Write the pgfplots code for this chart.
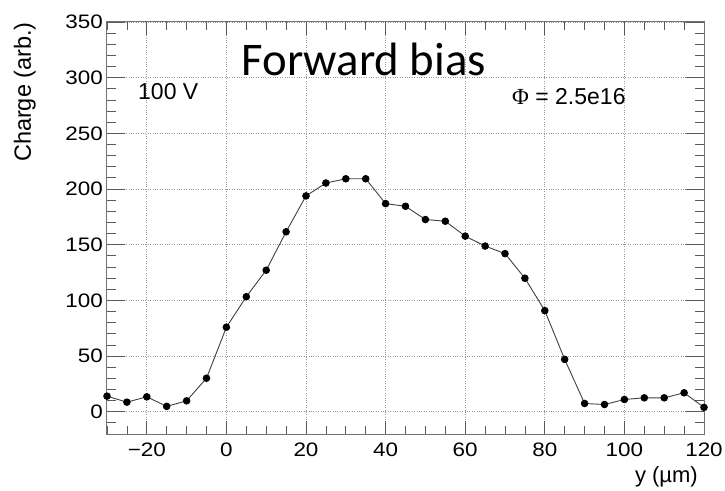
\documentclass[border=0pt]{standalone}
\usepackage{fontspec}
\setmainfont{Liberation Sans}
\newfontfamily\tickfont[FakeStretch=1.15]{Liberation Sans}
\newfontfamily\titlefont{Carlito}
\newfontfamily\symfont{Liberation Serif}
\usepackage{pgfplots}
\pgfplotsset{compat=1.18}
\begin{document}
\begin{tikzpicture}[x=1pt,y=1pt]
\path (-107,-56) rectangle (618,434);
% y ticks and y grid
\begin{axis}[at={(0,0)}, anchor=south west, scale only axis, width=597pt, height=412pt,
  xmin=-30, xmax=120, ymin=-20, ymax=350,
  xtick=\empty,
  ytick={0,50,...,350}, minor ytick={-20,-10,...,350},
  yticklabels={0,50,100,150,200,250,300,350},
  yticklabel style={font=\tickfont\fontsize{19.5}{20}\selectfont, anchor=east, inner sep=0pt, xshift=-4pt},
  ymajorgrids, major grid style={black!40, dotted, line width=0.8pt},
  major tick length=18pt, minor tick length=9pt,
  axis line style={black!55, line width=1pt},
  tick style={black!65, line width=0.8pt}]
\end{axis}
% x ticks, x grid and data
\begin{axis}[at={(0,0)}, anchor=south west, scale only axis, width=597pt, height=412pt,
  xmin=-30, xmax=120, ymin=-20, ymax=350,
  ytick=\empty,
  xtick={-20,0,...,120}, minor xtick={-30,-25,...,120},
  xticklabels={−20,0,20,40,60,80,100,120},
  xticklabel style={font=\tickfont\fontsize{19.5}{20}\selectfont, anchor=north, inner sep=0pt, yshift=-8.5pt},
  xmajorgrids, major grid style={black!40, dotted, line width=0.8pt},
  major tick length=13pt, minor tick length=8pt,
  axis line style={black!55, line width=1pt},
  tick style={black!65, line width=0.8pt},
  clip=false]
\addplot[black!75, line width=0.9pt, mark=*, mark size=3.3pt, mark options={black, fill=black, solid}] coordinates {
(-30,14.0) (-25,8.6) (-20,13.4) (-15,4.8) (-10,9.8) (-5,30.1)
(0,75.9) (5,103.3) (10,127.1) (15,161.6) (20,193.8) (25,205.4)
(30,209.2) (35,209.2) (40,186.9) (45,184.5) (50,172.6) (55,171.1)
(60,157.7) (65,148.8) (70,142.0) (75,119.9) (80,90.8) (85,47.0)
(90,7.4) (95,6.5) (100,11.0) (105,12.5) (110,12.5) (115,17.0) (120,3.9)
};
\end{axis}
\node[anchor=base west, inner sep=0pt, font=\titlefont\fontsize{46.8}{50}\selectfont] at (134.5,358) {Forward bias};
\node[anchor=base west, inner sep=0pt, font=\fontsize{23}{26}\selectfont] at (31,334) {100 V};
\node[anchor=base west, inner sep=0pt, font=\fontsize{23}{26}\selectfont] at (405,329) {{\symfont Φ} = 2.5e16};
\node[rotate=90, anchor=base east, inner sep=0pt, font=\fontsize{23.5}{26}\selectfont] at (-76,412) {Charge (arb.)};
\node[anchor=base east, inner sep=0pt, font=\fontsize{22}{26}\selectfont] at (591,-48) {y (µm)};
\end{tikzpicture}
\end{document}
